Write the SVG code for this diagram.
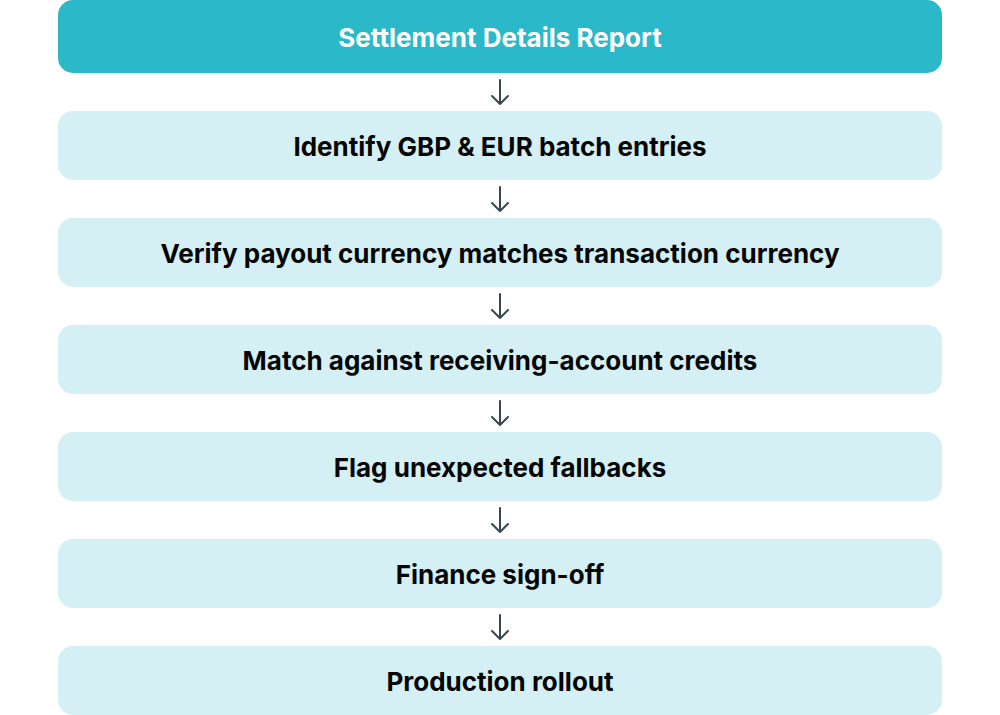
<svg xmlns="http://www.w3.org/2000/svg" width="1000" height="715" viewBox="0 0 1000 715">
<defs>
<style>
.box{fill:#d4f0f4}
.top{fill:#2bb8c9}
.t{font-family:Inter,"Liberation Sans",sans-serif;font-weight:700;font-size:26px;text-anchor:middle;dominant-baseline:central;fill:#050505}
.tw{fill:#fff}
.c{stroke:#37474f;stroke-width:2;fill:none;stroke-linecap:round;stroke-linejoin:round}
</style>
</defs>
<rect width="1000" height="715" fill="#fff"/>
<g id="n1"><rect class="top" x="58" y="0" width="884" height="73" rx="15"/><text class="t tw" x="500" y="37">Settlement Details Report</text></g>
<g id="n2"><rect class="box" x="58" y="111" width="884" height="69" rx="15"/><text class="t" x="500" y="146">Identify GBP &amp; EUR batch entries</text></g>
<g id="n3"><rect class="box" x="58" y="218" width="884" height="69" rx="15"/><text class="t" x="500" y="253">Verify payout currency matches transaction currency</text></g>
<g id="n4"><rect class="box" x="58" y="325" width="884" height="69" rx="15"/><text class="t" x="500" y="360">Match against receiving-account credits</text></g>
<g id="n5"><rect class="box" x="58" y="432" width="884" height="69" rx="15"/><text class="t" x="500" y="467">Flag unexpected fallbacks</text></g>
<g id="n6"><rect class="box" x="58" y="539" width="884" height="69" rx="15"/><text class="t" x="500" y="574">Finance sign-off</text></g>
<g id="n7"><rect class="box" x="58" y="646" width="884" height="69" rx="15"/><text class="t" x="500" y="681">Production rollout</text></g>
<g id="connectors">
<path class="c" d="M500 80V104M492 96L500 104L508 96"/>
<path class="c" d="M500 187V211M492 203L500 211L508 203"/>
<path class="c" d="M500 294V318M492 310L500 318L508 310"/>
<path class="c" d="M500 401V425M492 417L500 425L508 417"/>
<path class="c" d="M500 508V532M492 524L500 532L508 524"/>
<path class="c" d="M500 615V639M492 631L500 639L508 631"/>
</g>
</svg>
